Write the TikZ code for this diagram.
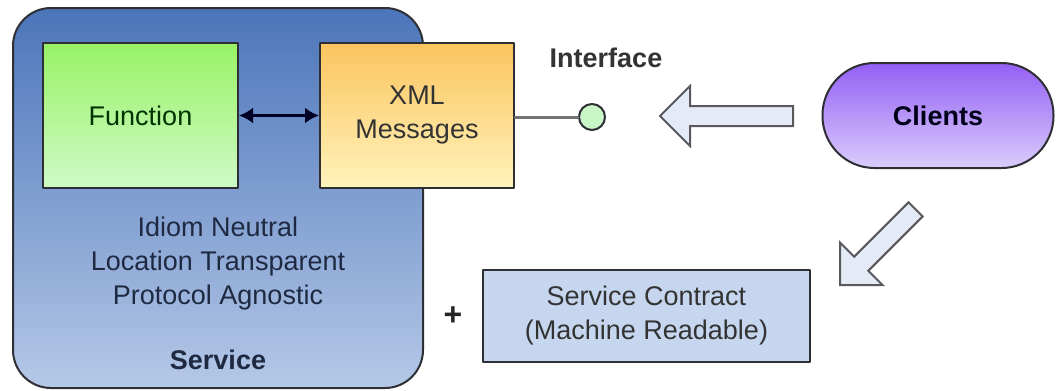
\documentclass[tikz,border=0pt]{standalone}
\usepackage{fontspec}
\setmainfont{Liberation Sans}
\usetikzlibrary{arrows.meta}

\definecolor{svctop}{HTML}{4B75BA}
\definecolor{svcbot}{HTML}{B5C8E7}
\definecolor{fntop}{HTML}{98F266}
\definecolor{fnbot}{HTML}{CFFAC6}
\definecolor{xmltop}{HTML}{FBC45E}
\definecolor{xmlbot}{HTML}{FFF3BC}
\definecolor{clitop}{HTML}{945FF4}
\definecolor{clibot}{HTML}{DACDFC}
\definecolor{ctrfill}{HTML}{C6D6EE}
\definecolor{arrfill}{HTML}{E4EBF6}
\definecolor{ifill}{HTML}{C9F6C6}
\definecolor{boxline}{HTML}{2E2E35}
\definecolor{txt}{HTML}{333333}
\definecolor{svctxt}{HTML}{1F2A42}

\tikzset{
  box/.style={draw=boxline, line width=1pt, inner sep=0pt, align=center, text=txt},
  blockarrow/.style={draw=boxline!80, fill=arrfill, line width=1pt, line join=miter}
}

% mũi tên rỗng: đỉnh, góc quay, chiều dài
\newcommand{\blockarr}[3]{%
  \draw[blockarrow, shift={(#1)}, rotate=#2]
    (0,0) -- (30,-30) -- (30,-10) -- (#3,-10) -- (#3,10) -- (30,10) -- (30,30) -- cycle;}

\begin{document}
\begin{tikzpicture}[x=0.5pt, y=-0.5pt, >={Latex[length=7pt,width=8pt]}, line cap=round, line join=round,
  font=\fontsize{13.5}{17}\selectfont]
  \useasboundingbox (0,0) rectangle (1056,391);

  % Khối Service
  \node[box, rounded corners=19pt, top color=svctop, bottom color=svcbot,
    minimum width=205pt, minimum height=190pt] (service) at (218,198) {};
  \node[text=svctxt, align=center] (props) at (218,264)
    {Idiom Neutral\\Location Transparent\\Protocol Agnostic};
  \node[text=svctxt, font=\fontsize{13.5}{17}\selectfont\bfseries] (svclabel) at (218,360) {Service};

  % Function và XML Messages
  \node[box, top color=fntop, bottom color=fnbot, text=green!20!black,
    minimum width=97.5pt, minimum height=72.5pt] (func) at (140.5,115.5) {Function};
  \node[box, top color=xmltop, bottom color=xmlbot, text=black!80,
    minimum width=97pt, minimum height=72.5pt] (xml) at (417,115.5) {XML\\Messages};
  \draw[<->, line width=1.5pt, draw=blue!15!black, fill=blue!15!black] (func) -- (xml);

  % Interface
  \node[circle, draw=boxline, fill=ifill, line width=1pt, minimum size=13pt, inner sep=0pt] (iface) at (592,117) {};
  \draw[black!55, line width=1.5pt] (xml.east |- iface) -- (iface);
  \node[text=txt, font=\fontsize{13.5}{17}\selectfont\bfseries] (ifacelabel) at (606,58) {Interface};

  % Clients
  \node[box, rounded corners=26pt, top color=clitop, bottom color=clibot, text=blue!10!black,
    font=\fontsize{13.5}{17}\selectfont\bfseries,
    minimum width=115.5pt, minimum height=52.5pt] (clients) at (938,115.5) {Clients};

  % Service Contract
  \node[box, fill=ctrfill, minimum width=163.5pt, minimum height=46pt] (contract) at (646.5,316)
    {Service Contract\\(Machine Readable)};
  \node[text=black!85, font=\fontsize{16}{17}\selectfont\bfseries] (plus) at (453,316) {+};

  % Các mũi tên rỗng
  \blockarr{660,116}{0}{133}
  \blockarr{840,285}{45}{107}

\end{tikzpicture}
\end{document}
